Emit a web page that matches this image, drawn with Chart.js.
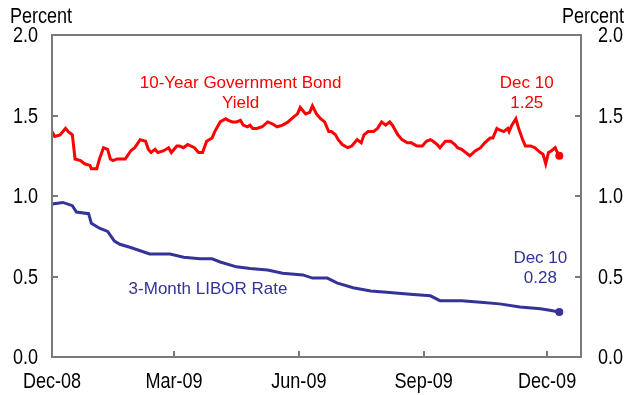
<!DOCTYPE html>
<html>
<head>
<meta charset="utf-8">
<script src="https://cdn.jsdelivr.net/npm/chart.js@4.4.1/dist/chart.umd.min.js"></script>
<style>
  body { margin: 0; background: #fff; }
  #wrap { width: 624px; height: 395px; }
</style>
</head>
<body>
<div id="wrap"><canvas id="myChart" width="624" height="395"></canvas></div>
<script>
// x axis = days since 1 Dec 2008
const tickDays = [0, 90, 182, 274, 365];
const tickLabels = ['Dec-08', 'Mar-09', 'Jun-09', 'Sep-09', 'Dec-09'];
const yTicks = [0, 0.5, 1.0, 1.5, 2.0];

// 10-year government bond yield, percent
const bondDays = [0, 2, 6, 10, 12, 15, 17, 21, 24, 28, 29, 33, 35, 38, 41, 43, 45, 48, 50, 54,
  58, 61, 65, 69, 71, 73, 76, 78, 82, 86, 88, 92, 94, 97, 100, 105, 108, 111, 114, 118,
  120, 124, 128, 130, 133, 136, 139, 141, 144, 146, 148, 151, 155, 159, 162, 166, 170, 174, 178, 181,
  183, 187, 190, 192, 195, 198, 201, 204, 206, 209, 211, 214, 218, 221, 225, 228, 230, 233, 237, 240,
  243, 246, 249, 251, 255, 258, 262, 265, 269, 273, 276, 279, 281, 284, 286, 290, 294, 297, 299, 302,
  305, 308, 312, 316, 319, 323, 325, 328, 330, 333, 336, 337, 339, 342, 344, 347, 349, 353, 356, 360,
  362, 364, 366, 368, 371, 372, 374];
const bondYield = [1.40, 1.37, 1.38, 1.42, 1.40, 1.38, 1.23, 1.22, 1.20, 1.19, 1.17, 1.17, 1.23, 1.30, 1.29, 1.23, 1.22, 1.23, 1.23, 1.23,
  1.28, 1.30, 1.35, 1.34, 1.29, 1.27, 1.29, 1.27, 1.28, 1.30, 1.27, 1.31, 1.31, 1.30, 1.32, 1.30, 1.27, 1.27, 1.34, 1.36,
  1.40, 1.46, 1.48, 1.47, 1.46, 1.46, 1.47, 1.44, 1.43, 1.44, 1.42, 1.42, 1.43, 1.46, 1.45, 1.43, 1.44, 1.46, 1.49, 1.51,
  1.55, 1.51, 1.52, 1.56, 1.51, 1.48, 1.46, 1.40, 1.40, 1.38, 1.35, 1.32, 1.30, 1.31, 1.35, 1.33, 1.38, 1.40, 1.40, 1.42,
  1.46, 1.44, 1.46, 1.44, 1.38, 1.35, 1.33, 1.33, 1.31, 1.31, 1.34, 1.35, 1.34, 1.32, 1.30, 1.34, 1.34, 1.32, 1.30, 1.29,
  1.27, 1.25, 1.28, 1.30, 1.33, 1.36, 1.36, 1.42, 1.41, 1.40, 1.42, 1.40, 1.44, 1.48, 1.42, 1.35, 1.31, 1.31, 1.30, 1.27,
  1.26, 1.20, 1.27, 1.28, 1.30, 1.28, 1.25];

// 3-month LIBOR rate, percent
const liborDays = [0, 8, 15, 18, 27, 29, 35, 41, 46, 50, 58, 65, 72, 80, 87, 97, 109, 118, 124, 136,
  146, 159, 170, 185, 192, 203, 210, 222, 235, 249, 264, 279, 286, 302, 316, 330, 345, 360, 367, 374];
const liborRate = [0.95, 0.96, 0.94, 0.90, 0.89, 0.83, 0.80, 0.78, 0.72, 0.70, 0.68, 0.66, 0.64, 0.64, 0.64, 0.62, 0.61, 0.61, 0.59, 0.56,
  0.55, 0.54, 0.52, 0.51, 0.49, 0.49, 0.46, 0.43, 0.41, 0.40, 0.39, 0.38, 0.35, 0.35, 0.34, 0.33, 0.31, 0.30, 0.29, 0.28];

const RED = '#ff0000';
const BLUE = '#333399';
const AXIS = '#7a7a7a';
const axisFont = "22px 'Liberation Sans', Arial, sans-serif";
const noteFont = "17px 'Liberation Sans', Arial, sans-serif";

function toPoints(days, vals) {
    return days.map(function(d, i) { return {x: d, y: vals[i]}; });
}

function lastDot(n) {
    return function(ctx) { return ctx.dataIndex === n - 1 ? 4 : 0; };
}

// narrow axis text: squeeze the font horizontally
function narrowText(ctx, s, x, y, align) {
    ctx.save();
    ctx.translate(x, y);
    ctx.scale(0.82, 1);
    ctx.textAlign = align;
    ctx.fillText(s, 0, 0);
    ctx.restore();
}

// frame, inward tick marks, tick labels and the text notes
const framePlugin = {
    id: 'frame',
    afterDraw(chart) {
        const ctx = chart.ctx;
        const a = chart.chartArea;
        const x = chart.scales.x, y = chart.scales.y;
        ctx.save();
        ctx.strokeStyle = AXIS;
        ctx.lineWidth = 2;
        ctx.strokeRect(a.left, a.top, a.right - a.left, a.bottom - a.top);
        ctx.beginPath();
        y.ticks.forEach(function(t) {
            const py = Math.round(y.getPixelForValue(t.value));
            ctx.moveTo(a.left, py); ctx.lineTo(a.left + 6, py);
            ctx.moveTo(a.right - 6, py); ctx.lineTo(a.right, py);
        });
        x.ticks.forEach(function(t) {
            const px = Math.round(x.getPixelForValue(t.value));
            if (px > a.left + 2) { ctx.moveTo(px, a.bottom); ctx.lineTo(px, a.bottom - 6); }
        });
        ctx.stroke();

        ctx.fillStyle = '#000';
        ctx.font = axisFont;
        ctx.textBaseline = 'middle';
        y.ticks.forEach(function(t) {
            const py = y.getPixelForValue(t.value) + 1;
            narrowText(ctx, t.value.toFixed(1), a.left - 14, py, 'right');
            narrowText(ctx, t.value.toFixed(1), a.right + 17, py, 'left');
        });
        x.ticks.forEach(function(t, i) {
            narrowText(ctx, tickLabels[i], x.getPixelForValue(t.value), a.bottom + 25, 'center');
        });
        narrowText(ctx, 'Percent', 41, 17, 'center');
        narrowText(ctx, 'Percent', 593, 17, 'center');

        note(chart, ['10-Year Government Bond', 'Yield'], 139, 1.70, RED);
        note(chart, ['Dec 10', '1.25'], 350, 1.70, RED);
        note(chart, ['3-Month LIBOR Rate'], 115, 0.42, BLUE);
        note(chart, ['Dec 10', '0.28'], 360, 0.61, BLUE);
        ctx.restore();
    }
};

function note(chart, lines, day, val, color) {
    const ctx = chart.ctx;
    const px = chart.scales.x.getPixelForValue(day);
    const py = chart.scales.y.getPixelForValue(val);
    ctx.fillStyle = color;
    ctx.font = noteFont;
    ctx.textAlign = 'center';
    ctx.textBaseline = 'middle';
    lines.forEach(function(s, i) { ctx.fillText(s, px, py + i * 20); });
}

function yAxis(pos, w) {
    return {
        type: 'linear', position: pos, min: 0, max: 2,
        afterBuildTicks: function(s) { s.ticks = yTicks.map(function(v) { return {value: v}; }); },
        afterFit: function(s) { s.width = w; },
        grid: {display: false, drawTicks: false},
        border: {display: false},
        ticks: {display: false}
    };
}

function chart() {
    const ctx = document.getElementById('myChart');
    new Chart(ctx, {
        type: 'line',
        data: {
            datasets: [{
                label: '10-Year Government Bond Yield',
                data: toPoints(bondDays, bondYield),
                borderColor: RED, backgroundColor: RED,
                borderWidth: 3, tension: 0,
                pointRadius: lastDot(bondDays.length), pointBorderWidth: 0,
                yAxisID: 'y'
            }, {
                label: '3-Month LIBOR Rate',
                data: toPoints(liborDays, liborRate),
                borderColor: BLUE, backgroundColor: BLUE,
                borderWidth: 3, tension: 0,
                pointRadius: lastDot(liborDays.length), pointBorderWidth: 0,
                yAxisID: 'y'
            }]
        },
        options: {
            responsive: false,
            animation: false,
            devicePixelRatio: 1,
            layout: {padding: {top: 35, left: 0, right: 0, bottom: 0}},
            plugins: {legend: {display: false}, tooltip: {enabled: false}},
            scales: {
                x: {
                    type: 'linear', min: 0, max: 390,
                    afterBuildTicks: function(s) { s.ticks = tickDays.map(function(v) { return {value: v}; }); },
                    afterFit: function(s) { s.height = 38; },
                    grid: {display: false, drawTicks: false},
                    border: {display: false},
                    ticks: {display: false}
                },
                y: yAxis('left', 52),
                y2: yAxis('right', 43)
            }
        },
        plugins: [framePlugin]
    });
}

chart();
</script>
</body>
</html>
